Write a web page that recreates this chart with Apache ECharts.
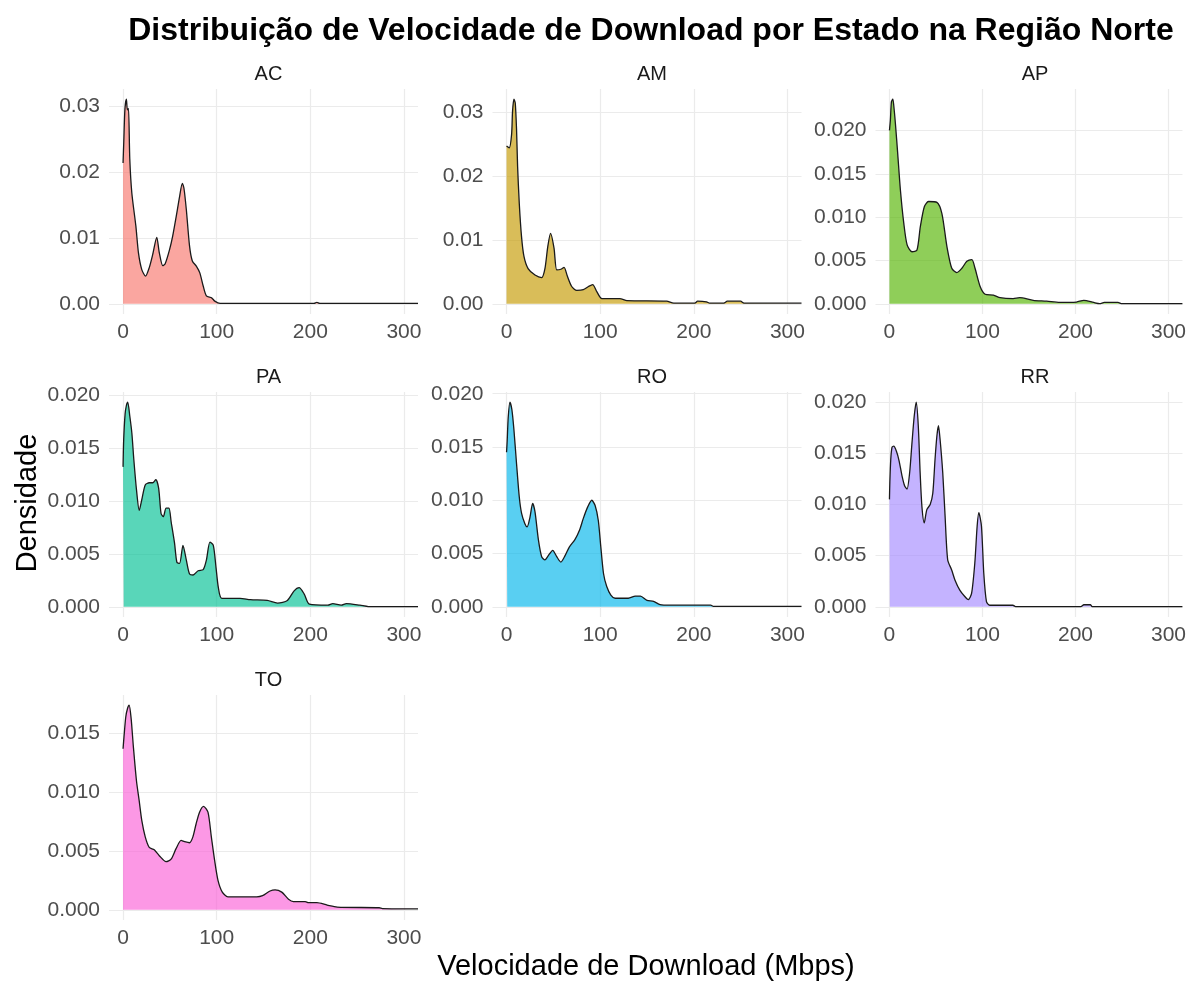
<!DOCTYPE html>
<html><head><meta charset="utf-8">
<script src="https://cdn.jsdelivr.net/npm/echarts@6/dist/echarts.min.js"></script>
<style>html,body{margin:0;padding:0;background:#fff}#c{width:1189px;height:982px}</style>
</head><body><div id="c"></div>
<script>
// ---- data (speed in Mbps, density) ----
const states = ['AC','AM','AP','PA','RO','RR','TO'];
const AC = [[0,0.0214],[0.8,0.0247],[2,0.0296],[3.6,0.0311],[4.6,0.0295],[5.8,0.0297],[7.2,0.022],[9.4,0.0168],[13.7,0.0118],[16.5,0.0077],[20,0.0052],[24,0.0042],[28,0.0055],[31.7,0.0075],[36,0.0101],[38.8,0.0077],[42.4,0.0058],[45,0.0061],[49.6,0.0082],[53,0.0103],[56.8,0.0133],[60.4,0.0163],[63.3,0.0183],[65,0.0176],[67.6,0.0143],[71,0.0088],[74,0.0065],[78.4,0.0057],[82,0.0047],[85.6,0.0027],[89,0.0012],[94.6,0.0009],[98,0.0004],[103.6,0.00005],[204,0.00005],[207,0.0002],[210,0.00005],[315,0.00005]];
const AM = [[0,0.0247],[2.9,0.0244],[5.4,0.0265],[6.4,0.0301],[7.9,0.032],[9.3,0.0314],[10.7,0.0272],[11.8,0.0215],[13.6,0.0157],[16,0.0105],[18.6,0.0074],[23,0.0055],[30.4,0.0045],[37.5,0.0041],[41,0.0055],[44,0.0089],[47,0.011],[50.7,0.0087],[53.6,0.0053],[58,0.0054],[61.4,0.0057],[65,0.0043],[69.6,0.0027],[75,0.0021],[82,0.0022],[87.5,0.0027],[92,0.003],[96.4,0.0019],[101.8,0.0008],[121,0.0008],[128.6,0.0005],[171,0.0004],[178.6,0.0001],[201,0.0001],[204,0.0004],[213.6,0.0003],[217,0.0001],[232,0.0001],[235.7,0.0004],[250,0.0004],[253.6,0.0001],[315,0.0001]];
const AP = [[0,0.02],[1,0.0212],[2.1,0.0233],[3.6,0.0236],[4.6,0.0229],[6.4,0.0208],[8.9,0.0173],[11.8,0.0131],[15.4,0.0093],[19,0.0068],[24.3,0.006],[29.6,0.0062],[33.2,0.0089],[37.5,0.0112],[42,0.0118],[51,0.0117],[56.4,0.0104],[61.8,0.0066],[67,0.0041],[72.5,0.0036],[77.9,0.0041],[83.2,0.0049],[88.6,0.0051],[92,0.0041],[97.5,0.002],[102.9,0.0011],[111.8,0.001],[119,0.0007],[133,0.0006],[140,0.0007],[154.6,0.0004],[169,0.0003],[183,0.00015],[201,0.0002],[209,0.0004],[219.6,0.00015],[226,0.00002],[231,0.00015],[245.7,0.00015],[250,0.00002],[315,0.00002]];
const PA = [[0,0.0132],[0.7,0.0158],[2.2,0.0182],[3.6,0.019],[5,0.0193],[7.2,0.018],[9.4,0.0164],[11.5,0.0139],[14.4,0.011],[17.3,0.0091],[20,0.0101],[23.7,0.0115],[28,0.0117],[31.7,0.0117],[35,0.012],[38,0.0112],[40.6,0.0088],[43,0.0085],[46,0.0093],[49,0.0093],[51.4,0.008],[55,0.006],[57.5,0.0042],[60.4,0.0041],[64,0.0058],[67.6,0.0044],[71,0.0031],[74.8,0.003],[80.2,0.0034],[85.6,0.0035],[89,0.0044],[92.8,0.0061],[96.4,0.0058],[99.3,0.0037],[101.8,0.0018],[105.4,0.0008],[125,0.0008],[136,0.00067],[154,0.0006],[165,0.00035],[175.5,0.0006],[182.7,0.0015],[188,0.0018],[193.5,0.0012],[199,0.00025],[218.7,0.00015],[224,0.0003],[233,0.00015],[238.5,0.0003],[253,0.00015],[262,0.00002],[315,0.00002]];
const RO = [[0,0.0145],[0.7,0.0156],[1.8,0.0178],[3.6,0.0192],[5.7,0.0185],[7.9,0.0166],[10.7,0.0134],[13.6,0.0103],[16,0.0088],[19.6,0.0078],[22,0.0075],[25,0.0084],[27.9,0.0097],[30.4,0.0089],[34,0.0063],[37.5,0.0047],[41,0.0044],[44.6,0.0048],[49.3,0.0053],[53.6,0.0047],[58,0.0042],[62.5,0.0048],[67,0.0056],[73,0.0063],[78,0.0072],[82,0.0083],[86.8,0.0094],[91,0.01],[94.6,0.0095],[98,0.0081],[100.7,0.0056],[103.6,0.0031],[107,0.0019],[111.4,0.0011],[116,0.0008],[130,0.0008],[137.5,0.001],[143,0.001],[150,0.0006],[157,0.0005],[164,0.0002],[175,0.00015],[218,0.00015],[221,0.00003],[315,0.00003]];
const RR = [[0,0.0105],[0.4,0.0121],[1.4,0.0144],[2.8,0.0156],[4.6,0.0157],[7.5,0.0152],[10.3,0.0143],[13.5,0.0128],[16.4,0.0118],[18.9,0.0115],[21.7,0.0131],[24.2,0.016],[26.7,0.0187],[28.8,0.02],[31,0.0177],[33,0.0131],[34.9,0.0098],[37.4,0.0082],[40.2,0.0095],[43.8,0.01],[46.6,0.0111],[49,0.0144],[51,0.0167],[52.7,0.0177],[54.4,0.0164],[57.3,0.0131],[59.8,0.0089],[62.6,0.0046],[66.9,0.0036],[70.5,0.0026],[75.8,0.0016],[81,0.001],[84.7,0.0007],[88.3,0.0013],[91.8,0.0043],[94.3,0.0079],[96.1,0.0092],[98.9,0.0079],[101.4,0.0033],[104.3,0.0005],[107.8,0.00015],[132.7,0.00015],[135.6,0.00002],[205.7,0.00002],[209,0.0002],[216,0.0002],[218,0.00002],[315,0.00002]];
const TO = [[0,0.0137],[1,0.0147],[2.9,0.0164],[4.7,0.0171],[6.5,0.0174],[8.6,0.0163],[11,0.0139],[14.3,0.011],[17.2,0.0093],[20,0.0076],[23.7,0.0062],[28,0.0053],[33.3,0.0051],[38.7,0.0046],[45.9,0.0041],[51.3,0.0043],[56.6,0.0052],[62,0.0059],[65.6,0.0058],[71,0.0057],[74.6,0.0062],[78,0.0073],[81.7,0.0083],[86,0.0088],[90.7,0.0083],[94.3,0.0062],[97.8,0.0042],[101.4,0.0025],[106,0.0015],[112,0.0011],[142.7,0.0011],[149,0.0012],[157,0.0016],[162.4,0.0017],[169.5,0.0015],[176.7,0.0009],[182,0.0007],[194.6,0.0007],[198,0.0006],[207,0.0006],[218,0.0004],[228.7,0.00023],[273.5,0.00017],[277,0.0001],[315,0.00008]];

// ---- tick labels ----
const speedTicks = [0, 100, 200, 300];
const ticksAC = [0, 0.01, 0.02, 0.03];
const ticksAM = [0, 0.01, 0.02, 0.03];
const ticksAP = [0, 0.005, 0.010, 0.015, 0.020];
const ticksPA = [0, 0.005, 0.010, 0.015, 0.020];
const ticksRO = [0, 0.005, 0.010, 0.015, 0.020];
const ticksRR = [0, 0.005, 0.010, 0.015, 0.020];
const ticksTO = [0, 0.005, 0.010, 0.015];

const titleText = 'Distribuição de Velocidade de Download por Estado na Região Norte';
const xTitle = 'Velocidade de Download (Mbps)';
const yTitle = 'Densidade';

// ---- layout / style ----
const seriesData = {AC, AM, AP, PA, RO, RR, TO};
const yTicks = {AC: ticksAC, AM: ticksAM, AP: ticksAP, PA: ticksPA, RO: ticksRO, RR: ticksRR, TO: ticksTO};
const decimals = {AC: 2, AM: 2, AP: 3, PA: 3, RO: 3, RR: 3, TO: 3};
const colors = ['#F8766D','#C49A00','#53B400','#00C094','#00B6EB','#A58AFF','#FB61D7'];
const colLeft = [109, 492.5, 875.5];
const rowTop = [89, 392, 695];
const pw = 309, ph = 225;
const FONT = 'Liberation Sans, Arial, sans-serif';

const grids = [], xAxes = [], yAxes = [], series = [], titles = [];
titles.push({text: titleText, left: 646, top: 10, textAlign: 'center',
  textStyle: {fontFamily: FONT, fontSize: 32, fontWeight: 'bold', color: '#000'}});

states.forEach((s, i) => {
  const col = i % 3, row = Math.floor(i / 3);
  const data = seriesData[s];
  const ymax = Math.max(...data.map(d => d[1]));
  grids.push({left: colLeft[col], top: rowTop[row], width: pw, height: ph, containLabel: false});
  xAxes.push({
    type: 'value', gridIndex: i, min: -15, max: 315,
    axisLine: {show: false},
    axisTick: {show: false, customValues: speedTicks},
    axisLabel: {customValues: speedTicks, color: '#4d4d4d', fontSize: 21, fontFamily: FONT, margin: 8},
    splitLine: {show: true, lineStyle: {color: '#ebebeb', width: 1.2}}
  });
  const dec = decimals[s];
  yAxes.push({
    type: 'value', gridIndex: i, min: -0.05 * ymax, max: 1.05 * ymax,
    axisLine: {show: false},
    axisTick: {show: false, customValues: yTicks[s]},
    axisLabel: {customValues: yTicks[s], color: '#4d4d4d', fontSize: 21, fontFamily: FONT, margin: 9,
      formatter: v => Number(v).toFixed(dec)},
    splitLine: {show: true, lineStyle: {color: '#ebebeb', width: 1.2}}
  });
  series.push({
    type: 'line', xAxisIndex: i, yAxisIndex: i, data: data,
    symbol: 'none', smooth: 0.25, clip: true,
    lineStyle: {color: '#1a1a1a', width: 1.3},
    areaStyle: {color: colors[i], opacity: 0.65, origin: 0},
    silent: true, animation: false
  });
  titles.push({text: s, left: colLeft[col] + pw / 2, top: rowTop[row] - 30, textAlign: 'center',
    textStyle: {fontFamily: FONT, fontSize: 20, fontWeight: 'normal', color: '#1a1a1a'}});
});

const chart = echarts.init(document.getElementById('c'), null, {renderer: 'canvas'});
chart.setOption({
  backgroundColor: '#fff',
  animation: false,
  title: titles,
  grid: grids, xAxis: xAxes, yAxis: yAxes, series: series,
  graphic: [
    {type: 'text', x: 646, y: 967, style: {text: xTitle, textAlign: 'center', textVerticalAlign: 'middle',
      fontFamily: FONT, fontSize: 29, fill: '#000'}},
    {type: 'text', x: 28, y: 503, rotation: Math.PI / 2, style: {text: yTitle, textAlign: 'center', textVerticalAlign: 'middle',
      fontFamily: FONT, fontSize: 29, fill: '#000'}}
  ]
});
</script></body></html>
